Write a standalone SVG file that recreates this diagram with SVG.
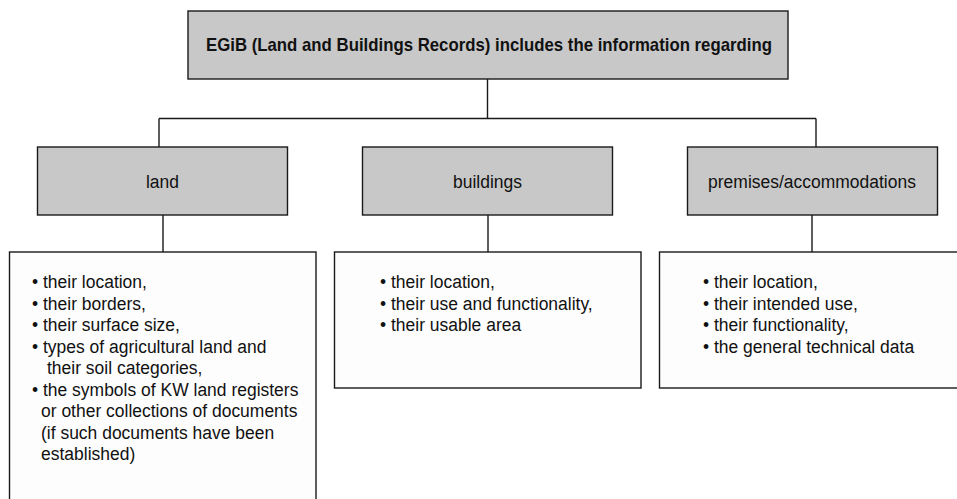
<svg xmlns="http://www.w3.org/2000/svg" width="957" height="499" viewBox="0 0 957 499">
<style>
.hdr{fill:#c8c8c8;stroke:#1a1a1a;stroke-width:1.4}
.lst{fill:#fdfdfd;stroke:#1a1a1a;stroke-width:1.4}
.con{stroke:#1a1a1a;stroke-width:1.4;fill:none}
text{font-family:"Liberation Sans",Arial,sans-serif;fill:#111;font-size:19px}
.b{font-weight:bold}
.c{text-anchor:middle}
</style>
<rect width="957" height="499" fill="#ffffff"/>
<g id="connectors">
<path class="con" d="M487.5,79 V118.5 M159,118.5 H816 M159,118.5 V147 M816,118.5 V147 M163,215 V252 M488,215 V252 M812,215 V252"/>
</g>
<g id="root">
<rect class="hdr" x="188" y="11" width="600" height="68"/>
<text class="b c" x="489" y="51" textLength="566" lengthAdjust="spacingAndGlyphs">EGiB (Land and Buildings Records) includes the information regarding</text>
</g>
<g id="land">
<rect class="hdr" x="37.5" y="147" width="250" height="68"/>
<text class="c" transform="translate(162.5 188) scale(0.92 1)">land</text>
</g>
<g id="buildings">
<rect class="hdr" x="362.5" y="147" width="250" height="68"/>
<text class="c" transform="translate(487.5 188) scale(0.92 1)">buildings</text>
</g>
<g id="premises">
<rect class="hdr" x="687.5" y="147" width="250" height="68"/>
<text class="c" transform="translate(812 188) scale(0.92 1)">premises/accommodations</text>
</g>
<g id="land-list">
<rect class="lst" x="9.5" y="252" width="306.5" height="260"/>
<text transform="translate(32 288) scale(0.92 1)">• their location,</text>
<text transform="translate(32 309.5) scale(0.92 1)">• their borders,</text>
<text transform="translate(32 331) scale(0.92 1)">• their surface size,</text>
<text transform="translate(32 352.5) scale(0.92 1)">• types of agricultural land and</text>
<text transform="translate(47 374) scale(0.92 1)">their soil categories,</text>
<text transform="translate(32 395.5) scale(0.92 1)">• the symbols of KW land registers</text>
<text transform="translate(41 417) scale(0.92 1)">or other collections of documents</text>
<text transform="translate(41 438.5) scale(0.92 1)">(if such documents have been</text>
<text transform="translate(41 460) scale(0.92 1)">established)</text>
</g>
<g id="buildings-list">
<rect class="lst" x="334.5" y="252" width="306.5" height="136"/>
<text transform="translate(380 288) scale(0.92 1)">• their location,</text>
<text transform="translate(380 309.5) scale(0.92 1)">• their use and functionality,</text>
<text transform="translate(380 331) scale(0.92 1)">• their usable area</text>
</g>
<g id="premises-list">
<rect class="lst" x="659.5" y="252" width="307" height="136"/>
<text transform="translate(703 288) scale(0.92 1)">• their location,</text>
<text transform="translate(703 309.5) scale(0.92 1)">• their intended use,</text>
<text transform="translate(703 331) scale(0.92 1)">• their functionality,</text>
<text transform="translate(703 352.5) scale(0.92 1)">• the general technical data</text>
</g>
</svg>
